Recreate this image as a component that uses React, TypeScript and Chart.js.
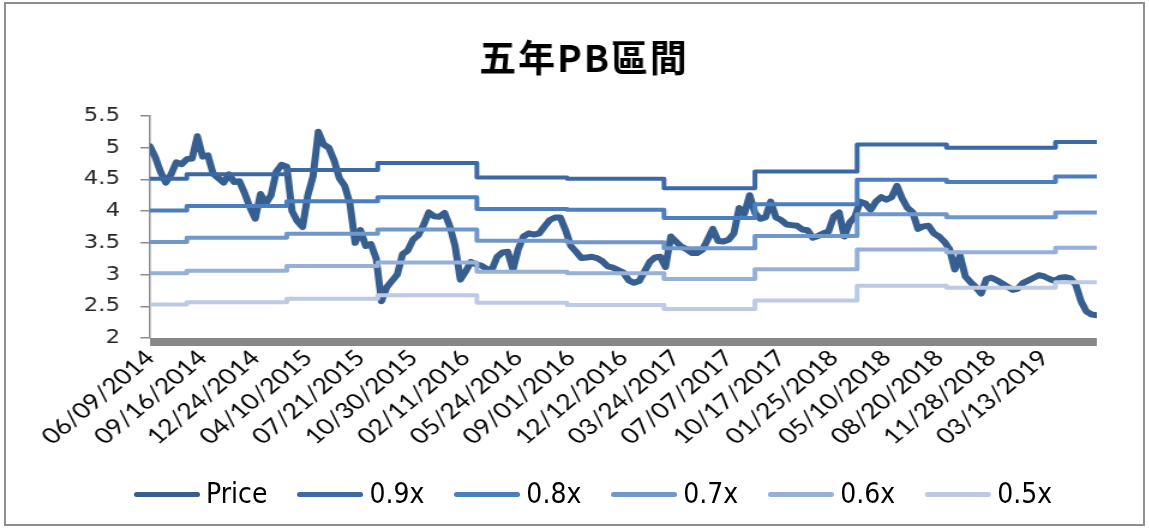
import React, { useEffect, useRef } from "react";
import { Chart, registerables } from "chart.js";

Chart.register(...registerables);

// ---------- data ----------
const TITLE = "五年PB區間";

const xTickLabels = [
  "06/09/2014", "09/16/2014", "12/24/2014", "04/10/2015", "07/21/2015", "10/30/2015",
  "02/11/2016", "05/24/2016", "09/01/2016", "12/12/2016", "03/24/2017", "07/07/2017",
  "10/17/2017", "01/25/2018", "05/10/2018", "08/20/2018", "11/28/2018", "03/13/2019",
];
const LABEL_EVERY = 70; // trading days between axis labels
const PRICE_EVERY = 7; // trading days between price samples
const LAST_DAY = 1260;

const priceValues = [
  5.02, 4.85, 4.62, 4.45, 4.58, 4.77, 4.74, 4.82, 4.83, 5.18,
  4.86, 4.88, 4.59, 4.52, 4.45, 4.58, 4.46, 4.47, 4.28, 4.06,
  3.88, 4.27, 4.12, 4.25, 4.62, 4.73, 4.70, 4.00, 3.84, 3.75,
  4.25, 4.55, 5.25, 5.05, 5.00, 4.80, 4.52, 4.40, 4.12, 3.50,
  3.70, 3.45, 3.48, 3.25, 2.58, 2.80, 2.90, 3.00, 3.32, 3.38,
  3.55, 3.62, 3.78, 3.98, 3.92, 3.91, 3.97, 3.76, 3.45, 2.92,
  3.05, 3.20, 3.16, 3.14, 3.09, 3.08, 3.28, 3.35, 3.36, 3.08,
  3.40, 3.60, 3.65, 3.63, 3.65, 3.76, 3.86, 3.90, 3.90, 3.70,
  3.45, 3.36, 3.26, 3.27, 3.28, 3.26, 3.21, 3.13, 3.11, 3.07,
  3.03, 2.91, 2.87, 2.90, 3.05, 3.20, 3.27, 3.28, 3.12, 3.60,
  3.52, 3.44, 3.40, 3.34, 3.34, 3.39, 3.55, 3.72, 3.53, 3.52,
  3.55, 3.65, 4.05, 3.96, 4.25, 3.97, 3.88, 3.90, 4.15, 3.90,
  3.86, 3.79, 3.78, 3.77, 3.71, 3.70, 3.58, 3.61, 3.65, 3.68,
  3.92, 3.98, 3.60, 3.82, 3.91, 4.15, 4.12, 4.02, 4.15, 4.22,
  4.18, 4.22, 4.40, 4.20, 4.05, 3.98, 3.72, 3.76, 3.77, 3.65,
  3.60, 3.52, 3.40, 3.08, 3.30, 2.97, 2.88, 2.80, 2.70, 2.93,
  2.95, 2.91, 2.86, 2.81, 2.76, 2.78, 2.87, 2.91, 2.95, 2.99,
  2.97, 2.93, 2.90, 2.95, 2.96, 2.94, 2.84, 2.58, 2.42, 2.37, 2.36,
];

// PB band levels, piecewise constant: each value holds from its start day
const bandStartDays = [0, 49, 182, 303, 435, 555, 684, 805, 941, 1060, 1205];
const band09 = [4.51, 4.58, 4.65, 4.76, 4.53, 4.51, 4.36, 4.625, 5.05, 5.0, 5.09];
const band08 = [4.01, 4.08, 4.155, 4.22, 4.035, 4.02, 3.89, 4.11, 4.495, 4.46, 4.545];
const band07 = [3.515, 3.58, 3.645, 3.71, 3.535, 3.51, 3.415, 3.61, 3.95, 3.905, 3.977];
const band06 = [3.02, 3.06, 3.135, 3.19, 3.045, 3.02, 2.93, 3.085, 3.395, 3.352, 3.424];
const band05 = [2.53, 2.565, 2.62, 2.675, 2.555, 2.52, 2.457, 2.59, 2.825, 2.794, 2.878];

const seriesNames = ["Price", "0.9x", "0.8x", "0.7x", "0.6x", "0.5x"];
const seriesColors = ["#365E8F", "#3C69A4", "#4A7EBE", "#7097CA", "#97B0D7", "#BCCBE3"];

const yTicks = [2, 2.5, 3, 3.5, 4, 4.5, 5, 5.5];
const yTickLabels = ["2", "2.5", "3", "3.5", "4", "4.5", "5", "5.5"];

// ---------- layout ----------
const S = 1.2; // horizontal stretch of the picture
const CANVAS_W = 958;
const CANVAS_H = 528;
const AREA_TOP = 116;
const AREA_BOTTOM = 338;
const AREA_LEFT = 125;
const AREA_RIGHT_PAD = 44;

const floorPlugin = {
  id: "floor",
  beforeDatasetsDraw(chart: any) {
    const { ctx, chartArea: a } = chart;
    ctx.save();
    ctx.fillStyle = "#878787";
    ctx.fillRect(a.left, a.bottom, a.right - a.left, 8);
    ctx.restore();
  },
};

const titlePlugin = {
  id: "pbTitle",
  afterDraw(chart: any) {
    const ctx = chart.ctx;
    ctx.save();
    ctx.translate(583 / S, 58);
    ctx.scale(1 / S, 1);
    ctx.font = 'bold 37px "Noto Sans CJK TC", "Noto Sans CJK SC", sans-serif';
    ctx.fillStyle = "#000";
    ctx.textAlign = "center";
    ctx.textBaseline = "middle";
    try {
      (ctx as any).letterSpacing = "2px";
    } catch (e) {}
    ctx.fillText(TITLE, 1, 0);
    ctx.restore();
  },
};

function bandData(vals: number[]) {
  const pts = bandStartDays.map((d, k) => ({ x: d, y: vals[k] }));
  pts.push({ x: LAST_DAY, y: vals[vals.length - 1] });
  return pts;
}

export default function App() {
  const ref = useRef<HTMLCanvasElement>(null);

  useEffect(() => {
    const canvas = ref.current;
    if (!canvas) return;
    const bands = [band09, band08, band07, band06, band05];
    const datasets: any[] = [
      {
        label: seriesNames[0],
        data: priceValues.map((y, i) => ({ x: i * PRICE_EVERY, y })),
        borderColor: seriesColors[0],
        backgroundColor: seriesColors[0],
        borderWidth: 6,
        pointRadius: 0,
        tension: 0,
        borderJoinStyle: "round",
        borderCapStyle: "round",
        order: 6,
      },
      ...bands.map((b, k) => ({
        label: seriesNames[k + 1],
        data: bandData(b),
        borderColor: seriesColors[k + 1],
        backgroundColor: seriesColors[k + 1],
        borderWidth: 4,
        pointRadius: 0,
        stepped: "before",
        borderJoinStyle: "round",
        borderCapStyle: "round",
        order: 5 - k,
      })),
    ];

    const chart = new Chart(canvas, {
      type: "line",
      data: { datasets },
      options: {
        animation: false,
        responsive: false,
        devicePixelRatio: 1,
        layout: { padding: { top: AREA_TOP, left: 0, right: AREA_RIGHT_PAD, bottom: 0 } },
        plugins: {
          legend: { display: false },
          title: { display: false },
          tooltip: { enabled: false },
        },
        scales: {
          x: {
            type: "linear",
            min: 0,
            max: LAST_DAY,
            afterBuildTicks: (s: any) => {
              s.ticks = xTickLabels.map((_, k) => ({ value: k * LABEL_EVERY }));
            },
            afterFit: (s: any) => {
              s.height = CANVAS_H - AREA_BOTTOM;
            },
            ticks: {
              autoSkip: false,
              minRotation: 45,
              maxRotation: 45,
              padding: 7,
              color: "#000",
              font: { family: "Lato", size: 22 },
              callback: (v: any) => xTickLabels[Math.round(Number(v) / LABEL_EVERY)] ?? "",
            },
            grid: { display: false, drawTicks: false },
            border: { display: false },
          },
          y: {
            min: 2,
            max: 5.5,
            afterBuildTicks: (s: any) => {
              s.ticks = yTicks.map((v) => ({ value: v }));
            },
            afterFit: (s: any) => {
              s.width = AREA_LEFT;
            },
            ticks: {
              padding: 17,
              color: "#262626",
              font: { family: "DejaVu Sans", size: 19 },
              callback: (v: any) => yTickLabels[yTicks.indexOf(Number(v))] ?? String(v),
            },
            grid: {
              drawOnChartArea: false,
              drawTicks: true,
              tickLength: 8,
              color: "#8C8C8C",
              lineWidth: 1.5,
            },
            border: { color: "#8C8C8C", width: 1.5 },
          },
        },
      },
      plugins: [floorPlugin, titlePlugin],
    } as any);

    return () => chart.destroy();
  }, []);

  return (
    <div
      style={{
        position: "absolute",
        left: 0,
        top: 0,
        width: 1149,
        height: 528,
        background: "#fff",
        overflow: "hidden",
      }}
    >
      <canvas
        ref={ref}
        width={CANVAS_W}
        height={CANVAS_H}
        style={{
          position: "absolute",
          left: 0,
          top: 0,
          width: CANVAS_W,
          height: CANVAS_H,
          transform: `scaleX(${S})`,
          transformOrigin: "0 0",
        }}
      />
      <div
        style={{
          position: "absolute",
          left: 134,
          top: 478,
          display: "flex",
          alignItems: "center",
          font: '28px "Liberation Sans Narrow", "DejaVu Sans Condensed", "Liberation Sans", sans-serif',
          color: "#000",
          lineHeight: "32px",
        }}
      >
        {seriesNames.map((n, k) => (
          <div key={n} style={{ display: "flex", alignItems: "center", marginRight: 30 }}>
            <span
              style={{
                display: "inline-block",
                width: 66,
                height: 5,
                borderRadius: 3,
                background: seriesColors[k],
                marginRight: 6,
              }}
            />
            {n}
          </div>
        ))}
      </div>
      <div
        style={{
          position: "absolute",
          left: 4,
          top: 2,
          width: 1141,
          height: 524,
          border: "2px solid #8F8F8F",
          boxSizing: "border-box",
          pointerEvents: "none",
        }}
      />
    </div>
  );
}
